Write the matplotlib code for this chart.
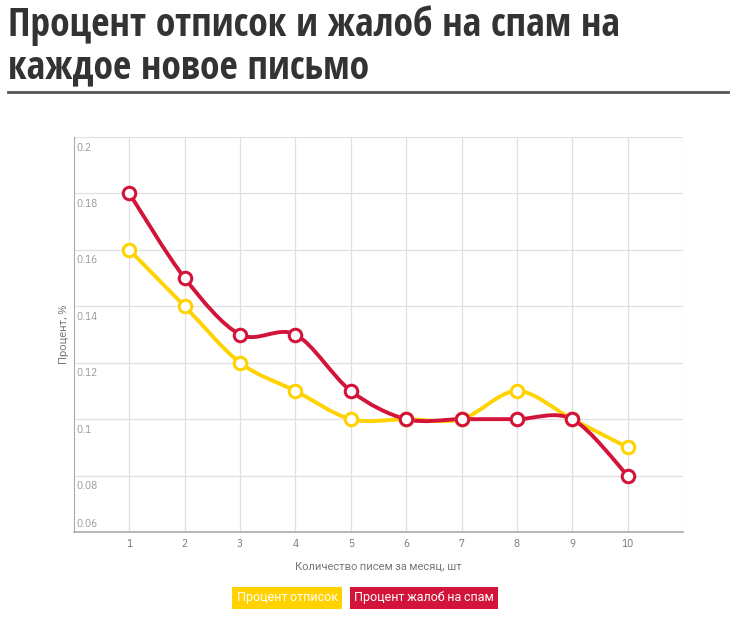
import numpy as np
import matplotlib
matplotlib.use("Agg")
import matplotlib.pyplot as plt
from matplotlib.path import Path
from matplotlib.patches import PathPatch

# data
letters = [1, 2, 3, 4, 5, 6, 7, 8, 9, 10]
unsub = [0.16, 0.14, 0.12, 0.11, 0.10, 0.10, 0.10, 0.11, 0.10, 0.09]
spam = [0.18, 0.15, 0.13, 0.13, 0.11, 0.10, 0.10, 0.10, 0.10, 0.08]
y_ticks = [0.06, 0.08, 0.1, 0.12, 0.14, 0.16, 0.18, 0.2]
y_tick_labels = ["0.06", "0.08", "0.1", "0.12", "0.14", "0.16", "0.18", "0.2"]

title = "Процент отписок и жалоб на спам на\nкаждое новое письмо"
x_title = "Количество писем за месяц, шт"
y_title = "Процент, %"
names = ["Процент отписок", "Процент жалоб на спам"]

YELLOW = "#ffd200"
RED = "#d3143a"
TITLE_FONT = ["Open Sans Condensed", "Roboto", "DejaVu Sans"]
SMALL_FONT = ["IBM Plex Sans Condensed", "Roboto", "DejaVu Sans"]


def spline_path(xs, ys, k=0.16):
    # cardinal spline through the points
    n = len(xs)
    pts = np.column_stack([xs, ys]).astype(float)
    verts = [tuple(pts[0])]
    codes = [Path.MOVETO]
    for i in range(n - 1):
        p0 = pts[i - 1] if i > 0 else pts[i]
        p1 = pts[i]
        p2 = pts[i + 1]
        p3 = pts[i + 2] if i + 2 < n else pts[i + 1]
        c1 = p1 + (p2 - p0) * k
        c2 = p2 - (p3 - p1) * k
        verts += [tuple(c1), tuple(c2), tuple(p2)]
        codes += [Path.CURVE4] * 3
    return Path(verts, codes)


fig = plt.figure(figsize=(7.39, 6.19), dpi=100)
ax = fig.add_axes([0.1001, 0.1405, 0.8241, 0.6382])

for ys, c in [(unsub, YELLOW), (spam, RED)]:
    ax.add_patch(PathPatch(spline_path(letters, ys), fill=False, edgecolor=c,
                           lw=2.8, capstyle="round", joinstyle="round", zorder=3))
    ax.plot(letters, ys, ls="none", marker="o", ms=9, mfc="white", mec=c,
            mew=2.2, zorder=4)

ax.set_xlim(0, 11)
ax.set_ylim(0.06, 0.2)
ax.set_xticks(letters)
ax.set_xticklabels([str(v) for v in letters], fontsize=8, color="#777777",
                   family=SMALL_FONT)
ax.tick_params(axis="x", length=0, pad=5)
ax.set_yticks(y_ticks)
ax.set_yticklabels([])
ax.tick_params(axis="y", length=0)

# vertical grid incl. the right edge
for xv in letters + [11]:
    ax.axvline(xv, color="#e0e0e0", lw=0.9, zorder=1)
for yv in y_ticks[1:]:
    ax.axhline(yv, color="#e0e0e0", lw=0.9, zorder=1)

# y labels sit inside the plot
for yv, lab in zip(y_ticks, y_tick_labels):
    if yv == 0.06:
        ax.text(0.05, yv + 0.001, lab, fontsize=8, color="#999999",
                ha="left", va="bottom", family=SMALL_FONT)
    else:
        ax.text(0.05, yv - 0.002, lab, fontsize=8, color="#999999",
                ha="left", va="top", family=SMALL_FONT)

for s in ["top", "right"]:
    ax.spines[s].set_visible(False)
ax.spines["left"].set_color("#aaaaaa")
ax.spines["bottom"].set_color("#aaaaaa")
ax.spines["bottom"].set_linewidth(1.2)

ax.set_xlabel(x_title, fontsize=8, color="#777777", labelpad=9, family=SMALL_FONT)
ax.set_ylabel(y_title, fontsize=8, color="#777777", labelpad=0, family=SMALL_FONT)

# title + rule
fig.text(0.011, 0.992, title, fontsize=28.5, fontweight="bold", color="#333333",
         family=TITLE_FONT, va="top", linespacing=1.08)
fig.add_artist(plt.Line2D([0.011, 0.985], [0.852, 0.852], color="#555555", lw=2))

# legend as coloured boxes
fig.text(0.3887, 0.034, names[0], fontsize=9, color="white", ha="center",
         va="center", family=SMALL_FONT,
         bbox=dict(boxstyle="square,pad=0.35", fc=YELLOW, ec="none"))
fig.text(0.5737, 0.034, names[1], fontsize=9, color="white", ha="center",
         va="center", family=SMALL_FONT,
         bbox=dict(boxstyle="square,pad=0.35", fc=RED, ec="none"))

fig.savefig("out.png", dpi=100)
